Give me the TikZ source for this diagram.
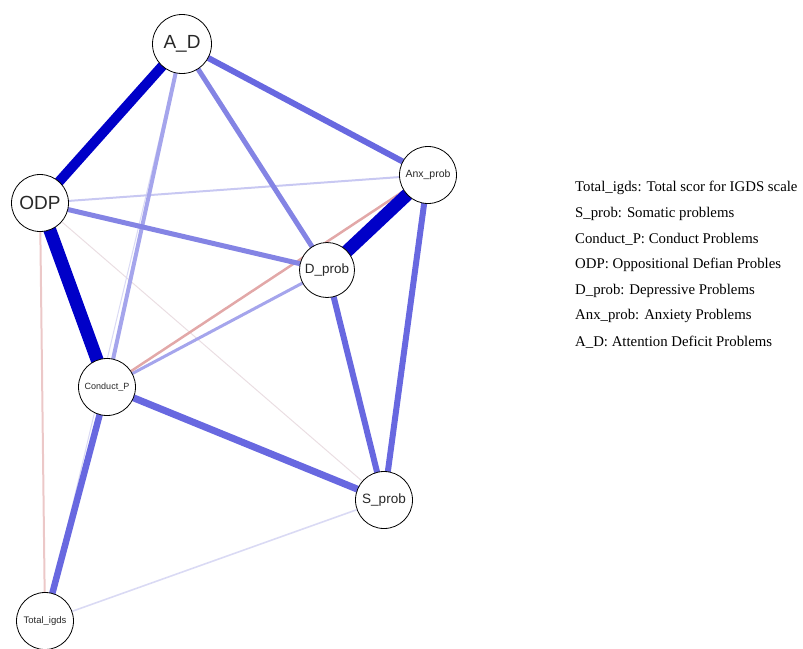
\documentclass[tikz,border=0pt]{standalone}
\usepackage{fontspec}
\setmainfont{Liberation Serif}
\newfontfamily\nodefont{Liberation Sans}
\usepackage{tikz}
\usetikzlibrary{backgrounds}

\definecolor{dkblue}{RGB}{0,0,200}
\definecolor{midblue}{RGB}{104,104,224}
\definecolor{blueB}{RGB}{132,132,228}
\definecolor{blueC}{RGB}{165,165,236}
\definecolor{blueD}{RGB}{200,200,242}
\definecolor{blueE}{RGB}{218,218,244}
\definecolor{pinkA}{RGB}{226,168,168}
\definecolor{pinkB}{RGB}{236,200,200}
\definecolor{pinkC}{RGB}{234,222,226}
\definecolor{txtgray}{RGB}{40,40,40}

\begin{document}
\begin{tikzpicture}[x=1pt, y=-1pt,
    var/.style={circle, draw=black, line width=0.8pt, fill=white, minimum size=57pt, inner sep=0pt, text=txtgray, font=\nodefont},
    legend/.style={anchor=west, inner sep=0pt, font=\fontsize{14.8}{16}\selectfont}]
    \useasboundingbox (0,0) rectangle (803,648);
    % variables
    \node[var, minimum size=59pt, font=\nodefont\fontsize{19}{20}\selectfont] (ad) at (182,44) {A\_D};
    \node[var, font=\nodefont\fontsize{19}{20}\selectfont] (odp) at (40,203) {ODP};
    \node[var, font=\nodefont\fontsize{10.5}{12}\selectfont] (anx) at (428,175) {Anx\_prob};
    \node[var, minimum size=55pt, font=\nodefont\fontsize{13.5}{15}\selectfont] (dprob) at (327,270) {D\_prob};
    \node[var, font=\nodefont\fontsize{9}{10}\selectfont] (cp) at (107,387) {Conduct\_P};
    \node[var, font=\nodefont\fontsize{13.5}{15}\selectfont] (sprob) at (384,500) {S\_prob};
    \node[var, font=\nodefont\fontsize{9.5}{11}\selectfont] (tot) at (45,621) {Total\_igds};
    % edges, behind the circles
    \begin{scope}[on background layer]
    \draw[pinkC, line width=1pt] (odp.center) -- (sprob.center);
    \draw[blueE, line width=1pt] (ad.center) -- (tot.center);
    \draw[blueE, line width=1.6pt] (tot.center) -- (sprob.center);
    \draw[pinkB, line width=2pt] (odp.center) -- (tot.center);
    \draw[blueD, line width=2pt] (odp.center) -- (anx.center);
    \draw[blueC, line width=3pt] (dprob.center) -- (cp.center);
    \draw[pinkA, line width=2.5pt] (anx.center) -- (cp.center);
    \draw[blueC, line width=4pt] (ad.center) -- (cp.center);
    \draw[blueB, line width=5pt] (ad.center) -- (dprob.center);
    \draw[blueB, line width=5pt] (odp.center) -- (dprob.center);
    \draw[midblue, line width=6pt] (ad.center) -- (anx.center);
    \draw[midblue, line width=6pt] (anx.center) -- (sprob.center);
    \draw[midblue, line width=6pt] (dprob.center) -- (sprob.center);
    \draw[midblue, line width=7pt] (cp.center) -- (sprob.center);
    \draw[midblue, line width=6.5pt] (cp.center) -- (tot.center);
    \draw[dkblue, line width=10pt] (ad.center) -- (odp.center);
    \draw[dkblue, line width=13pt] (odp.center) -- (cp.center);
    \draw[dkblue, line width=13pt] (anx.center) -- (dprob.center);
    \end{scope}
    % legend
    \node[legend] (leg1) at (575,188) {Total\_igds: Total scor for IGDS scale};
    \node[legend] (leg2) at (575,213.5) {S\_prob: Somatic problems};
    \node[legend] (leg3) at (575,239) {Conduct\_P: Conduct Problems};
    \node[legend] (leg4) at (575,265) {ODP: Oppositional Defian Probles};
    \node[legend] (leg5) at (575,290.5) {D\_prob: Depressive Problems};
    \node[legend] (leg6) at (575,316) {Anx\_prob: Anxiety Problems};
    \node[legend] (leg7) at (575,342) {A\_D: Attention Deficit Problems};
\end{tikzpicture}
\end{document}
